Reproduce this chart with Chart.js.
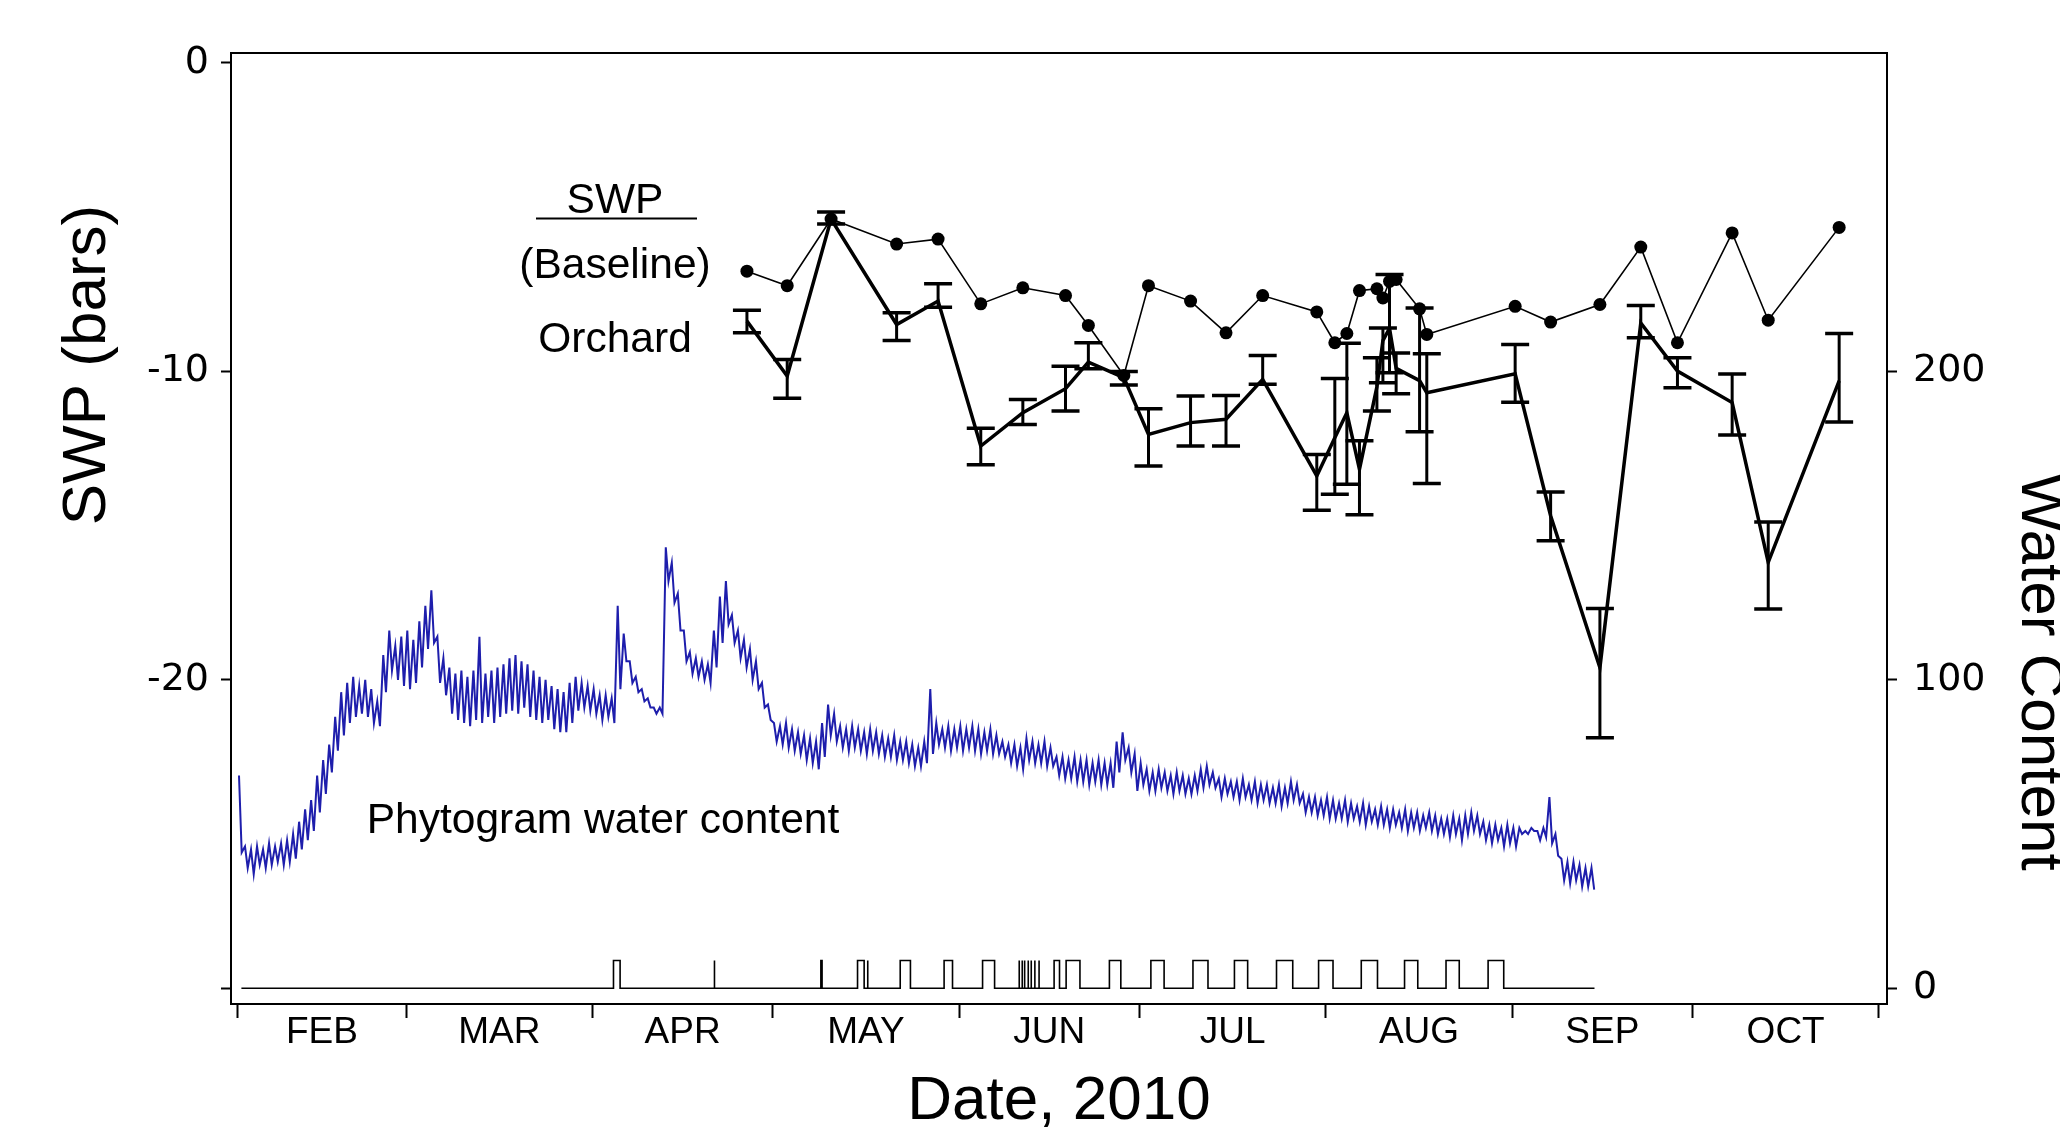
<!DOCTYPE html>
<html>
<head>
<meta charset="utf-8">
<script src="https://cdn.jsdelivr.net/npm/chart.js@4.4.1/dist/chart.umd.min.js"></script>
<style>
  html, body { margin: 0; padding: 0; background: #fff; }
  #wrap { width: 2060px; height: 1138px; position: relative; }
</style>
</head>
<body>
<div id="wrap"><canvas id="c" width="2060" height="1138"></canvas></div>
<script>
// ---- Data (x values are day of year, 2010) ----
const sampleDays = [116.7, 123.4, 130.7, 141.6, 148.5, 155.6, 162.6, 169.7, 173.5, 179.4,
  183.5, 190.5, 196.4, 202.5, 211.5, 214.5, 216.5, 218.6, 221.5, 222.5,
  223.6, 224.7, 228.6, 229.8, 244.5, 250.4, 258.6, 265.4, 271.5, 280.6,
  286.6, 298.4];

// Stem water potential, baseline (bars)
const baselineSWP = [-6.75, -7.22, -5.06, -5.87, -5.71, -7.81, -7.29, -7.54, -8.51, -10.13,
  -7.22, -7.72, -8.75, -7.54, -8.07, -9.07, -8.77, -7.38, -7.32, -7.62,
  -7.08, -7.02, -7.97, -8.80, -7.89, -8.40, -7.83, -5.97, -9.07, -5.51,
  -8.34, -5.33];

// Stem water potential, orchard mean (bars) with error bar ends
const orchardSWP = [-8.37, -10.15, -5.06, -8.48, -7.72, -12.42, -11.34, -10.56, -9.70, -10.20,
  -12.04, -11.66, -11.55, -10.26, -13.39, -12.15, -11.34, -13.17, -10.50, -9.00,
  -8.60, -9.90, -10.30, -10.69, -10.08, -14.68, -19.60, -8.43, -9.99, -11.01,
  -16.19, -10.31];
const orchardHigh = [-8.02, -9.61, -4.83, -8.10, -7.16, -11.84, -10.91, -9.83, -9.07, -10.00,
  -11.21, -10.80, -10.78, -9.48, -12.69, -10.23, -9.09, -12.25, -9.56, -8.59,
  -6.86, -9.40, -7.94, -9.43, -9.13, -13.91, -17.69, -7.86, -9.56, -10.08,
  -14.88, -8.77];
const orchardLow = [-8.75, -10.87, -5.22, -9.00, -7.92, -13.03, -11.72, -11.28, -9.91, -10.44,
  -13.07, -12.42, -12.42, -10.42, -14.50, -13.98, -13.66, -14.65, -11.28, -10.37,
  -10.04, -10.72, -11.96, -13.63, -11.00, -15.49, -21.88, -8.91, -10.53, -12.06,
  -17.70, -11.64];

// Phytogram water content: daily high and low, starting at day 32
const phytoStartDay = 32;
const phytoDailyHigh = [
  69, 46, 45, 46, 45, 47, 46, 47, 48, 50,
  54, 58, 61, 69, 74, 79, 88, 96, 99, 101,
  98, 100, 97, 93, 108, 116, 111, 114, 116, 113,
  119, 124, 129, 114, 107, 104, 102, 103, 101, 103,
  114, 102, 103, 104, 105, 107, 108, 106, 105, 103,
  101, 100, 98, 97, 96, 99, 101, 99, 98, 97,
  95, 95, 94, 124, 115, 106, 101, 97, 94, 91,
  91, 143, 138, 128, 116, 109, 107, 106, 105, 116,
  127, 132, 121, 116, 113, 110, 106, 99, 92, 86,
  85, 86, 84, 83, 82, 81, 80, 86, 92, 89,
  85, 84, 85, 84, 83, 84, 83, 82, 81, 82,
  80, 80, 79, 78, 80, 97, 86, 84, 85, 84,
  85, 84, 85, 84, 83, 84, 82, 80, 79, 79,
  78, 81, 80, 79, 80, 78, 75, 75, 74, 75,
  74, 74, 73, 74, 73, 73, 80, 83, 78, 76,
  73, 71, 70, 71, 70, 69, 70, 69, 68, 69,
  71, 72, 70, 68, 68, 67, 67, 68, 66, 67,
  66, 66, 65, 66, 65, 67, 66, 63, 62, 62,
  61, 62, 61, 60, 61, 60, 59, 60, 59, 58,
  59, 58, 58, 57, 58, 57, 57, 56, 57, 56,
  55, 55, 56, 55, 56, 57, 56, 54, 53, 53,
  52, 53, 52, 52, 51, 52, 51, 52, 62, 50,
  42, 41, 41, 40, 39, 39];
const phytoDailyLow = [
  44, 39, 37, 40, 39, 40, 41, 40, 41, 42,
  45, 48, 51, 57, 63, 70, 77, 82, 86, 88,
  89, 88, 86, 85, 96, 103, 100, 98, 97, 99,
  104, 110, 112, 99, 95, 89, 87, 86, 85, 87,
  86, 88, 86, 88, 89, 90, 89, 91, 88, 87,
  86, 87, 84, 83, 83, 86, 90, 91, 90, 89,
  87, 88, 86, 97, 106, 99, 96, 93, 91, 89,
  89, 132, 125, 116, 106, 102, 101, 100, 99, 104,
  112, 118, 112, 107, 104, 100, 97, 91, 87, 80,
  79, 78, 77, 76, 74, 73, 71, 75, 82, 80,
  78, 77, 78, 77, 76, 77, 76, 75, 75, 74,
  74, 73, 72, 72, 73, 76, 79, 78, 77, 78,
  77, 78, 77, 76, 77, 76, 76, 75, 73, 72,
  71, 74, 73, 73, 72, 72, 69, 68, 68, 67,
  67, 66, 67, 66, 66, 65, 70, 74, 70, 64,
  66, 64, 64, 65, 64, 63, 64, 63, 63, 64,
  65, 66, 65, 62, 63, 62, 61, 62, 61, 60,
  61, 60, 60, 59, 60, 61, 60, 57, 57, 56,
  56, 55, 55, 55, 54, 55, 54, 53, 54, 53,
  53, 52, 53, 52, 51, 52, 51, 52, 51, 50,
  50, 49, 50, 48, 50, 51, 50, 48, 47, 48,
  46, 47, 46, 50, 50, 51, 48, 49, 47, 43,
  35, 34, 35, 33, 33, 32];

// Irrigation events [start day, end day]; equal ends are single pulses
const irrigationEvents = [
  [94.5, 95.6], [111.3, 111.3], [129.0, 129.2], [135.1, 136.2], [136.8, 136.8],
  [142.2, 143.9], [149.5, 150.9], [155.9, 157.9],
  [162.0, 162.0], [162.5, 162.5], [162.9, 162.9], [163.5, 163.5], [164.0, 164.0],
  [164.6, 164.6], [165.3, 165.3],
  [167.8, 168.7], [169.8, 172.1], [177.0, 178.9], [183.9, 186.1], [190.9, 193.4],
  [197.8, 200.0], [204.8, 207.5], [211.8, 214.2], [218.9, 221.6], [226.1, 228.3],
  [233.0, 235.2], [240.0, 242.6]];
const irrigationSpan = [32.6, 257.7];
const irrigationLevel = 9;

// Month boundaries and names for the date axis
const monthStarts = [32, 60, 91, 121, 152, 182, 213, 244, 274, 305];
const monthNames = ['FEB', 'MAR', 'APR', 'MAY', 'JUN', 'JUL', 'AUG', 'SEP', 'OCT'];
const swpTicks = [0, -10, -20, -30];
const waterTicks = [0, 100, 200];

// ---- Build series ----
const baselinePts = sampleDays.map((d, i) => ({ x: d, y: baselineSWP[i] }));
const orchardPts = sampleDays.map((d, i) => ({ x: d, y: orchardSWP[i] }));

const phytoPts = [];
phytoDailyHigh.forEach((hi, i) => {
  const d = phytoStartDay + i;
  phytoPts.push({ x: d + 0.2, y: hi });
  phytoPts.push({ x: d + 0.65, y: phytoDailyLow[i] });
});

const irrigationPts = [{ x: irrigationSpan[0], y: 0 }];
irrigationEvents.forEach(([s, e]) => {
  irrigationPts.push({ x: s, y: 0 }, { x: s, y: irrigationLevel });
  if (e > s) irrigationPts.push({ x: e, y: irrigationLevel });
  irrigationPts.push({ x: e, y: 0 });
});
irrigationPts.push({ x: irrigationSpan[1], y: 0 });

const monthMids = monthNames.map((_, i) => (monthStarts[i] + monthStarts[i + 1]) / 2);
const xTickValues = monthStarts.concat(monthMids).sort((a, b) => a - b);

const FONT = '"Liberation Sans", Arial, Helvetica, sans-serif';
const NUM_FONT = '"DejaVu Sans", "Liberation Sans", Arial, sans-serif';

// Error bars on the orchard series
const errorBars = {
  id: 'errorBars',
  afterDatasetsDraw(chart) {
    const { ctx, scales: { x, y } } = chart;
    ctx.save();
    ctx.strokeStyle = '#000';
    ctx.lineCap = 'butt';
    sampleDays.forEach((d, i) => {
      const px = x.getPixelForValue(d);
      const top = y.getPixelForValue(orchardHigh[i]);
      const bot = y.getPixelForValue(orchardLow[i]);
      ctx.lineWidth = 3;
      ctx.beginPath();
      ctx.moveTo(px, top); ctx.lineTo(px, bot);
      ctx.stroke();
      ctx.lineWidth = 3.5;
      ctx.beginPath();
      ctx.moveTo(px - 14, top); ctx.lineTo(px + 14, top);
      ctx.moveTo(px - 14, bot); ctx.lineTo(px + 14, bot);
      ctx.stroke();
    });
    ctx.restore();
  }
};

// Frame top edge, axis titles and in-plot labels
const labels = {
  id: 'labels',
  afterDraw(chart) {
    const { ctx, chartArea: a } = chart;
    ctx.save();
    ctx.strokeStyle = '#000';
    ctx.lineWidth = 2;
    ctx.beginPath();
    ctx.moveTo(a.left - 1, a.top); ctx.lineTo(a.right + 1, a.top);
    ctx.stroke();

    ctx.fillStyle = '#000';
    ctx.textAlign = 'center';

    // left axis title
    ctx.save();
    ctx.font = `62px ${FONT}`;
    ctx.textBaseline = 'alphabetic';
    ctx.translate(105, 365);
    ctx.rotate(-Math.PI / 2);
    ctx.fillText('SWP (bars)', 0, 0);
    ctx.restore();

    // right axis title
    ctx.save();
    ctx.font = `62px ${FONT}`;
    ctx.textBaseline = 'alphabetic';
    ctx.translate(2022, 672);
    ctx.rotate(Math.PI / 2);
    ctx.fillText('Water Content', 0, 0);
    ctx.restore();

    // x axis title
    ctx.font = `62px ${FONT}`;
    ctx.textBaseline = 'alphabetic';
    ctx.fillText('Date, 2010', 1059, 1119);

    // series labels
    ctx.font = `42.5px ${FONT}`;
    ctx.fillText('SWP', 615, 213);
    ctx.beginPath();
    ctx.moveTo(536, 218.5); ctx.lineTo(697, 218.5);
    ctx.stroke();
    ctx.fillText('(Baseline)', 615, 278);
    ctx.fillText('Orchard', 615, 352);
    ctx.fillText('Phytogram water content', 603, 833);
    ctx.restore();
  }
};

new Chart(document.getElementById('c'), {
  type: 'line',
  data: {
    datasets: [
      {
        label: 'Baseline', data: baselinePts, yAxisID: 'y',
        borderColor: '#000', borderWidth: 1.6, tension: 0,
        pointRadius: 6.5, pointBackgroundColor: '#000', pointBorderWidth: 0
      },
      {
        label: 'Orchard', data: orchardPts, yAxisID: 'y',
        borderColor: '#000', borderWidth: 3.5, tension: 0, pointRadius: 0
      },
      {
        label: 'Phytogram water content', data: phytoPts, yAxisID: 'y2',
        borderColor: '#1e1eac', borderWidth: 2, tension: 0, pointRadius: 0
      },
      {
        label: 'Irrigation', data: irrigationPts, yAxisID: 'y2',
        borderColor: '#000', borderWidth: 1.6, tension: 0, pointRadius: 0
      }
    ]
  },
  options: {
    responsive: false,
    animation: false,
    devicePixelRatio: 1,
    parsing: false,
    normalized: true,
    layout: { padding: { top: 53, left: 0, right: 0, bottom: 0 } },
    plugins: { legend: { display: false }, tooltip: { enabled: false } },
    scales: {
      x: {
        type: 'linear', position: 'bottom', bounds: 'data',
        min: 30.87, max: 306.36,
        afterBuildTicks: s => { s.ticks = xTickValues.map(v => ({ value: v })); },
        afterFit: s => { s.height = 134; },
        ticks: {
          autoSkip: false, maxRotation: 0, minRotation: 0, color: '#000', padding: -4,
          font: { family: FONT, size: 37, lineHeight: 1 },
          callback: v => {
            const i = monthMids.indexOf(v);
            return i >= 0 ? monthNames[i] : '';
          }
        },
        grid: {
          drawOnChartArea: false, drawTicks: true, tickLength: 14, tickWidth: 2,
          tickColor: c => (c.tick && monthMids.indexOf(c.tick.value) >= 0) ? 'rgba(0,0,0,0)' : '#000'
        },
        border: { display: true, color: '#000', width: 2 }
      },
      y: {
        type: 'linear', position: 'left', bounds: 'data',
        min: -30.51, max: 0.324,
        afterBuildTicks: s => { s.ticks = swpTicks.map(v => ({ value: v })); },
        afterFit: s => { s.width = 231; },
        ticks: {
          color: '#000', padding: 12, font: { family: NUM_FONT, size: 38 },
          callback: v => (v === -30 ? '' : String(v))
        },
        grid: { drawOnChartArea: false, drawTicks: true, tickLength: 10, tickWidth: 2, tickColor: '#000' },
        border: { display: true, color: '#000', width: 2 }
      },
      y2: {
        type: 'linear', position: 'right', bounds: 'data',
        min: -5.1, max: 303.24,
        afterBuildTicks: s => { s.ticks = waterTicks.map(v => ({ value: v })); },
        afterFit: s => { s.width = 173; },
        ticks: {
          color: '#000', padding: 16, font: { family: NUM_FONT, size: 38 },
          callback: v => String(v)
        },
        grid: { drawOnChartArea: false, drawTicks: true, tickLength: 10, tickWidth: 2, tickColor: '#000' },
        border: { display: true, color: '#000', width: 2 }
      }
    }
  },
  plugins: [errorBars, labels]
});
</script>
</body>
</html>
